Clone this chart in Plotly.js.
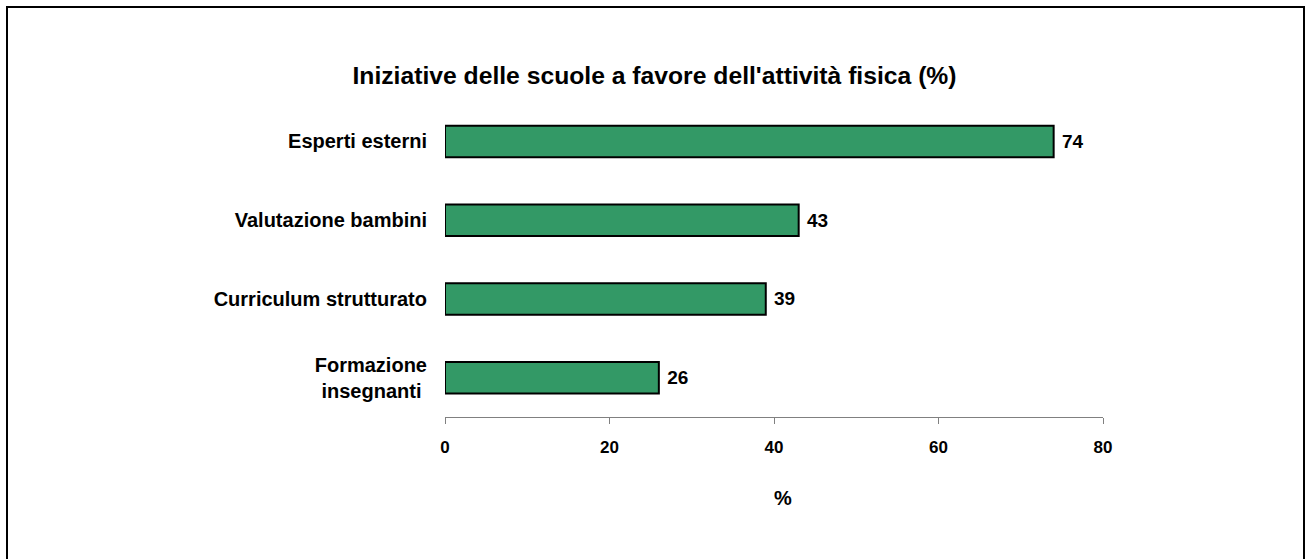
<!DOCTYPE html>
<html>
<head>
<meta charset="utf-8">
<script src="https://cdn.plot.ly/plotly-3.0.1.min.js"></script>
<style>
  html, body { margin: 0; padding: 0; background: #fff; }
  #wrap { position: relative; width: 1305px; height: 559px; overflow: hidden; }
  #chart { position: absolute; left: 0; top: 0; width: 1305px; height: 559px; }
  #frame { position: absolute; left: 6px; top: 6px; width: 1295px; height: 620px;
           border: 2px solid #000; pointer-events: none; }
</style>
</head>
<body>
<div id="wrap">
  <div id="chart"></div>
  <div id="frame"></div>
</div>
<script>
const chartTitle = "Iniziative delle scuole a favore dell'attività fisica (%)";
const categories = ["Formazione<br>insegnanti\u00A0", "Curriculum strutturato", "Valutazione bambini", "Esperti esterni"];
const values = [26, 39, 43, 74];
const xTickVals = [0, 20, 40, 60, 80];
const xAxisTitle = "%";

const FONT = "Liberation Sans, Arial, Helvetica, sans-serif";

const trace = {
  type: "bar",
  orientation: "h",
  y: categories,
  x: values,
  marker: { color: "#339966", line: { color: "#000000", width: 2 } },
  text: values.map(v => "\u00A0" + v),
  textposition: "outside",
  textfont: { family: FONT, size: 19, color: "#000", weight: "bold" },
  cliponaxis: false,
  hoverinfo: "x+y"
};

const layout = {
  width: 1305,
  height: 559,
  margin: { l: 445, r: 202, t: 102, b: 142, pad: 0 },
  paper_bgcolor: "#ffffff",
  plot_bgcolor: "#ffffff",
  showlegend: false,
  bargap: 0.6,
  font: { family: FONT, color: "#000" },
  title: {
    text: chartTitle,
    font: { family: FONT, size: 24.7, color: "#000", weight: "bold" },
    x: (352 + 957) / 2 / 1305, xref: "container", xanchor: "center",
    y: (559 - 75) / 559, yref: "container", yanchor: "middle"
  },
  xaxis: {
    range: [0, 80],
    tickvals: xTickVals,
    ticktext: xTickVals.map(String),
    showgrid: false,
    zeroline: false,
    showline: true,
    linecolor: "#808080",
    linewidth: 1,
    ticks: "outside",
    ticklen: 6,
    tickcolor: "#808080",
    tickwidth: 1,
    ticklabelstandoff: 9,
    tickfont: { family: FONT, size: 17, color: "#000", weight: "bold" },
    automargin: false,
    fixedrange: true
  },
  yaxis: {
    type: "category",
    categoryorder: "array",
    categoryarray: categories,
    range: [-0.5, 3.5],
    showgrid: false,
    zeroline: false,
    showline: false,
    ticks: "outside",
    ticklen: 13,
    tickcolor: "rgba(0,0,0,0)",
    tickfont: { family: FONT, size: 20, color: "#000", weight: "bold" },
    automargin: false,
    fixedrange: true
  },
  annotations: [{
    text: xAxisTitle,
    xref: "paper", yref: "paper",
    x: (783 - 445) / 658, y: (417 - 498) / 315,
    xanchor: "center", yanchor: "middle",
    showarrow: false,
    font: { family: FONT, size: 20, color: "#000", weight: "bold" }
  }]
};

Plotly.newPlot("chart", [trace], layout, { displayModeBar: false, staticPlot: true });
</script>
</body>
</html>
